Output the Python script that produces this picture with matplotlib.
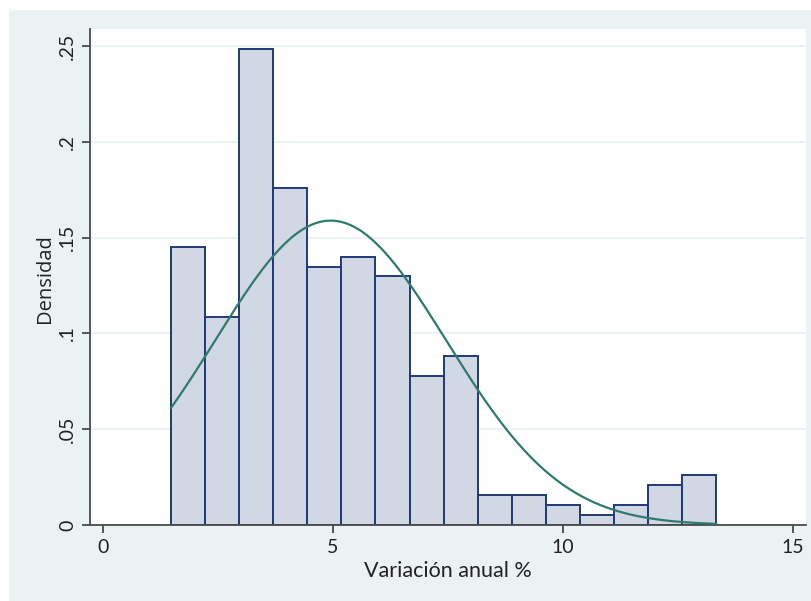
import numpy as np
import matplotlib
matplotlib.use("Agg")
import matplotlib.pyplot as plt
from matplotlib.patches import Rectangle


# ==========================================================
# DATA
# ==========================================================

bin_start = 1.48
bin_width = 0.7406

densities = [
    0.1452, 0.1088, 0.2484, 0.1761,
    0.1346, 0.1398, 0.1298, 0.0779,
    0.0883, 0.0158, 0.0158, 0.0106,
    0.0052, 0.0106, 0.0208, 0.0260
]

# normal overlay parameters
normal_mean = 4.95
normal_sd = 2.51

x_ticks = [0, 5, 10, 15]
x_tick_labels = ["0", "5", "10", "15"]
y_ticks = [0, 0.05, 0.10, 0.15, 0.20, 0.25]
y_tick_labels = ["0", ".05", ".1", ".15", ".2", ".25"]

x_label = "Variación anual %"
y_label = "Densidad"


# ==========================================================
# STYLE
# ==========================================================

bg_color = "#EAF2F3"
bar_fill = "#D1D7E3"
bar_edge = "#1F3A78"
curve_color = "#2E7B6E"
axis_color = "#4A4A4A"
text_color = "#222222"

plt.rcParams["font.family"] = ["Lato", "DejaVu Sans"]


# ==========================================================
# FIGURE
# ==========================================================

fig = plt.figure(figsize=(8.12, 6.01), dpi=100)
fig.patch.set_facecolor("white")

fig.add_artist(
    Rectangle(
        (9 / 812, 0),
        1 - 9 / 812,
        1 - 10 / 601,
        transform=fig.transFigure,
        facecolor=bg_color,
        edgecolor="none",
        zorder=-5
    )
)

ax = fig.add_axes([90 / 812, 1 - 525 / 601, (806 - 90) / 812, (525 - 29) / 601])
ax.set_facecolor("white")
ax.set_zorder(1)

# histogram bars
n_bins = len(densities)
left_edges = bin_start + bin_width * np.arange(n_bins)

ax.bar(
    left_edges,
    densities,
    width=bin_width,
    align="edge",
    color=bar_fill,
    edgecolor=bar_edge,
    linewidth=1.4,
    zorder=2
)

# normal density curve over the data range
x_end = bin_start + bin_width * n_bins
xs = np.linspace(bin_start, x_end, 300)
ys = np.exp(-0.5 * ((xs - normal_mean) / normal_sd) ** 2) / (normal_sd * np.sqrt(2 * np.pi))

ax.plot(
    xs,
    ys,
    color=curve_color,
    linewidth=1.6,
    zorder=3
)

# axes
ax.set_xlim(-0.28, 15.28)
ax.set_ylim(0, 0.259)

ax.set_xticks(x_ticks)
ax.set_xticklabels(x_tick_labels)
ax.set_yticks(y_ticks)
ax.set_yticklabels(y_tick_labels, rotation=90, va="center")

ax.yaxis.grid(True, color=bg_color, linewidth=1.5, zorder=0)
ax.set_axisbelow(True)

for side in ["top", "right"]:
    ax.spines[side].set_visible(False)

for side in ["left", "bottom"]:
    ax.spines[side].set_color(axis_color)
    ax.spines[side].set_linewidth(1.3)

ax.tick_params(
    axis="both",
    colors=axis_color,
    labelcolor=text_color,
    labelsize=14,
    length=6,
    width=1.3
)
ax.tick_params(axis="x", pad=4)
ax.tick_params(axis="y", pad=4)

ax.set_xlabel(x_label, fontsize=15.5, color=text_color, va="baseline")
ax.xaxis.set_label_coords(0.4996, (525 - 577) / 496)

ax.set_ylabel(y_label, fontsize=14.5, color=text_color, va="baseline",
              family=["Open Sans", "DejaVu Sans"])
ax.yaxis.set_label_coords((50 - 90) / 716, (525 - 279) / 496)

fig.savefig("out.png", dpi=100)
